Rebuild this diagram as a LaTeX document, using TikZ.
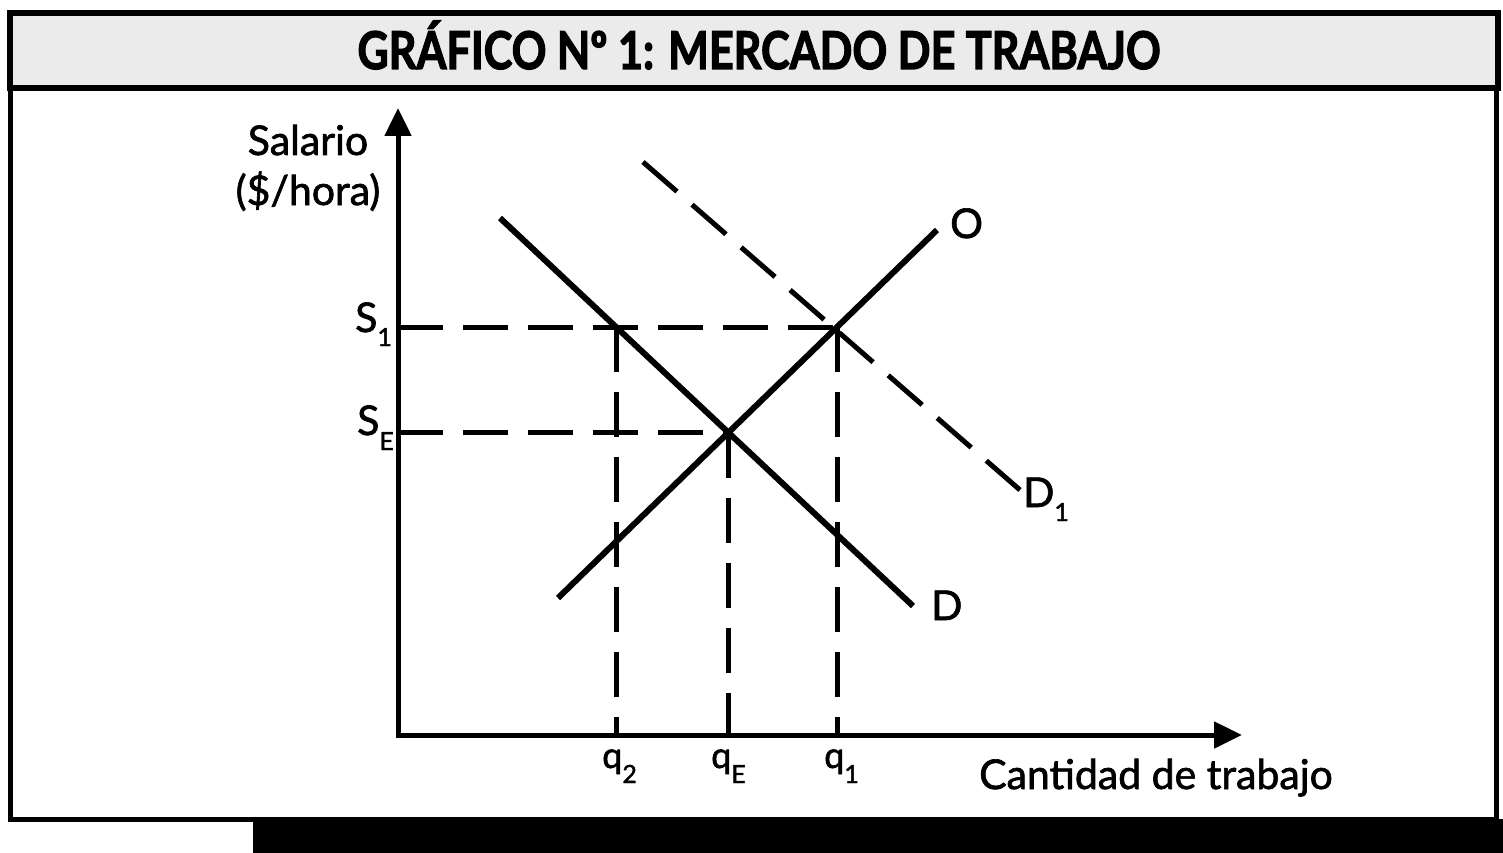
\documentclass[tikz,border=0pt]{standalone}
\usepackage{fontspec}
\setmainfont{Lato}
\newfontfamily\labelfont{Lato}[FakeBold=1.6]
\newfontfamily\titlefont{Lato}[BoldFeatures={FakeBold=2.5}]
\usetikzlibrary{arrows.meta,intersections}
\begin{document}
\begin{tikzpicture}[x=1pt,y=-1pt,
  curve/.style={line width=6pt},
  guide/.style={line width=5pt,dash pattern=on 45pt off 20pt},
  axisline/.style={line width=5pt,-{Triangle[width=26pt,length=28pt]}},
  lab/.style={font=\labelfont\fontsize{41}{41}\selectfont,inner sep=0pt,anchor=base},
  qlab/.style={font=\labelfont\fontsize{36}{36}\selectfont,inner sep=0pt,anchor=base west},
  frameline/.style={line width=5pt}]
\newcommand{\subtxt}[2]{\raisebox{-#1pt}{\fontsize{25}{25}\selectfont #2}}
\useasboundingbox (0,0) rectangle (1503,853);
\fill[white] (0,0) rectangle (1503,853);
% frame and title bar
\draw[frameline] (10,88) -- (10,819) -- (1496,819) -- (1496,88);
\draw[line width=6pt,fill=gray!16] (10,13) rectangle (1498,88);
\node[inner sep=0pt,anchor=base] (title) at (759,69)
  {\resizebox{803pt}{\height}{\titlefont\fontsize{52}{52}\selectfont\bfseries GRÁFICO Nº 1: MERCADO DE TRABAJO}};
\fill (253,819) rectangle (1503,853);
% axes
\coordinate (orig) at (398,735);
\coordinate (ytip) at (398,108);
\coordinate (xtip) at (1242,735);
\draw[axisline] (398,737.5) -- (ytip);
\draw[axisline] (395.5,735) -- (xtip);
% curves
\draw[curve,name path=Dl] (500,218) -- (913,606);
\draw[curve,name path=Ol] (558,598) -- (937,230);
\draw[guide] (643,162) -- (1020,490);
\path[name path=hs] (398,327) -- (1100,327);
\path[name intersections={of=Ol and hs,by=A}];
\path[name intersections={of=Dl and hs,by=B}];
\path[name intersections={of=Dl and Ol,by=E}];
% guides
\draw[guide] (orig |- A) -- (A);
\draw[guide] (orig |- E) -- (E);
\draw[guide] (B) -- (B |- orig);
\draw[guide] (E) -- (E |- orig);
\draw[guide] (A) -- (A |- orig);
% labels
\node[lab] (sal) at (308,155) {Salario};
\node[lab] (hora) at (308,205) {(\$/hora)};
\node[lab,anchor=base west] (s1) at (355,332) {S\subtxt{14}{1}};
\node[lab,anchor=base west] (se) at (357,435) {S\subtxt{15}{E}};
\node[qlab] (q2) at (602,768) {q\subtxt{15}{2}};
\node[qlab] (qe) at (711,768) {q\subtxt{15}{E}};
\node[qlab] (q1) at (824,768) {q\subtxt{15}{1}};
\node[lab,anchor=base west] (cant) at (979,789) {Cantidad de trabajo};
\node[lab,anchor=base west] (ol) at (950,238) {O};
\node[lab,anchor=base west] (dl) at (931,620) {D};
\node[lab,anchor=base west] (d1l) at (1023,507) {D\subtxt{14}{1}};
\end{tikzpicture}
\end{document}
